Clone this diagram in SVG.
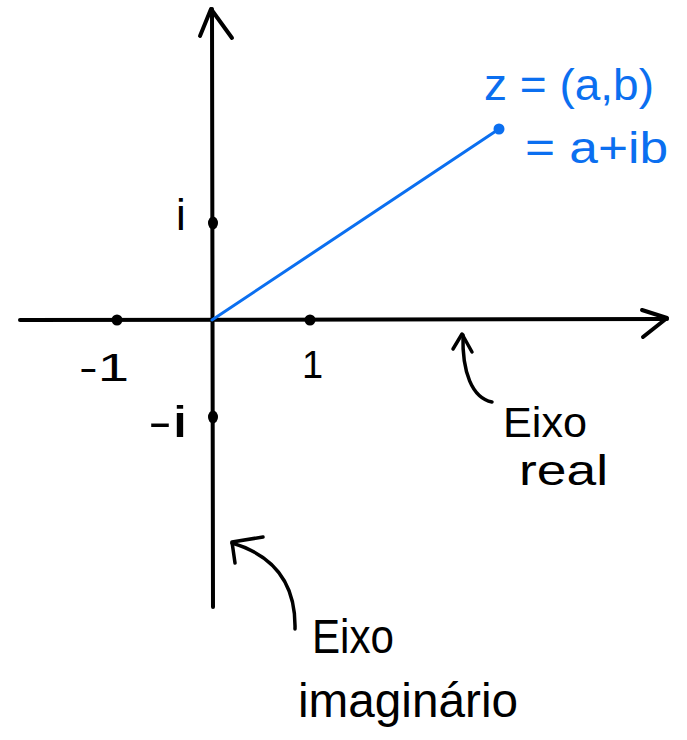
<svg xmlns="http://www.w3.org/2000/svg" width="687" height="740" viewBox="0 0 687 740">
<style>
.ax{stroke:#000;stroke-width:4;fill:none;stroke-linecap:round;stroke-linejoin:round}
.ann{stroke:#000;stroke-width:3.5;fill:none;stroke-linecap:round;stroke-linejoin:round}
.vec{stroke:#0b6ff0;stroke-width:3;fill:none;stroke-linecap:round}
.t{font-family:"Liberation Sans",Arial,sans-serif;fill:#000}
.tb{font-family:"Liberation Sans",Arial,sans-serif;fill:#0b6ff0}
</style>
<rect width="687" height="740" fill="#fff"/>
<g id="connectors">
<g id="real-axis">
<line class="ax" x1="20" y1="320" x2="667" y2="319"/>
<path class="ax" d="M642,310 L667,318 L643,337"/>
</g>
<g id="imag-axis">
<line class="ax" x1="212" y1="9" x2="213" y2="607"/>
<path class="ax" d="M200,36 L211,9 L232,38"/>
</g>
<line id="vector" class="vec" x1="212" y1="320" x2="499" y2="129"/>
<g id="real-arrow">
<path class="ann" d="M492,402 C472,398 462,372 463,335"/>
<path class="ann" d="M453,349 L462,334 L472,352"/>
</g>
<g id="imag-arrow">
<path class="ann" d="M295,629 C296,585 276,556 232,543"/>
<path class="ann" d="M263,537 L232,542 L235,563"/>
</g>
</g>
<g id="point-minus1"><ellipse cx="117" cy="320" rx="5.5" ry="5.5"/><text class="t" x="79" y="381" font-size="38" textLength="50" lengthAdjust="spacingAndGlyphs">-1</text></g>
<g id="point-1"><ellipse cx="310" cy="320" rx="5.5" ry="5.5"/><text class="t" x="302" y="378" font-size="38">1</text></g>
<g id="point-i"><ellipse cx="213" cy="223" rx="5" ry="6.5"/><text class="t" x="176" y="230" font-size="44">i</text></g>
<g id="point-minus-i"><ellipse cx="213" cy="417" rx="5" ry="6.5"/><text class="t" x="148" y="437" font-size="44" textLength="40" lengthAdjust="spacingAndGlyphs">-i</text></g>
<g id="point-z">
<circle cx="499" cy="129" r="5.5" fill="#0b6ff0"/>
<text class="tb" x="484" y="100" font-size="44" textLength="170" lengthAdjust="spacingAndGlyphs">z = (a,b)</text>
<text class="tb" x="525" y="163" font-size="44" textLength="143" lengthAdjust="spacingAndGlyphs">= a+ib</text>
</g>
<g id="label-real">
<text class="t" x="503" y="437" font-size="42" textLength="84" lengthAdjust="spacingAndGlyphs">Eixo</text>
<text class="t" x="519" y="485" font-size="42" textLength="89" lengthAdjust="spacingAndGlyphs">real</text>
</g>
<g id="label-imag">
<text class="t" x="312" y="653" font-size="48" textLength="82" lengthAdjust="spacingAndGlyphs">Eixo</text>
<text class="t" x="298" y="717" font-size="48" textLength="220" lengthAdjust="spacingAndGlyphs">imaginário</text>
</g>
</svg>
